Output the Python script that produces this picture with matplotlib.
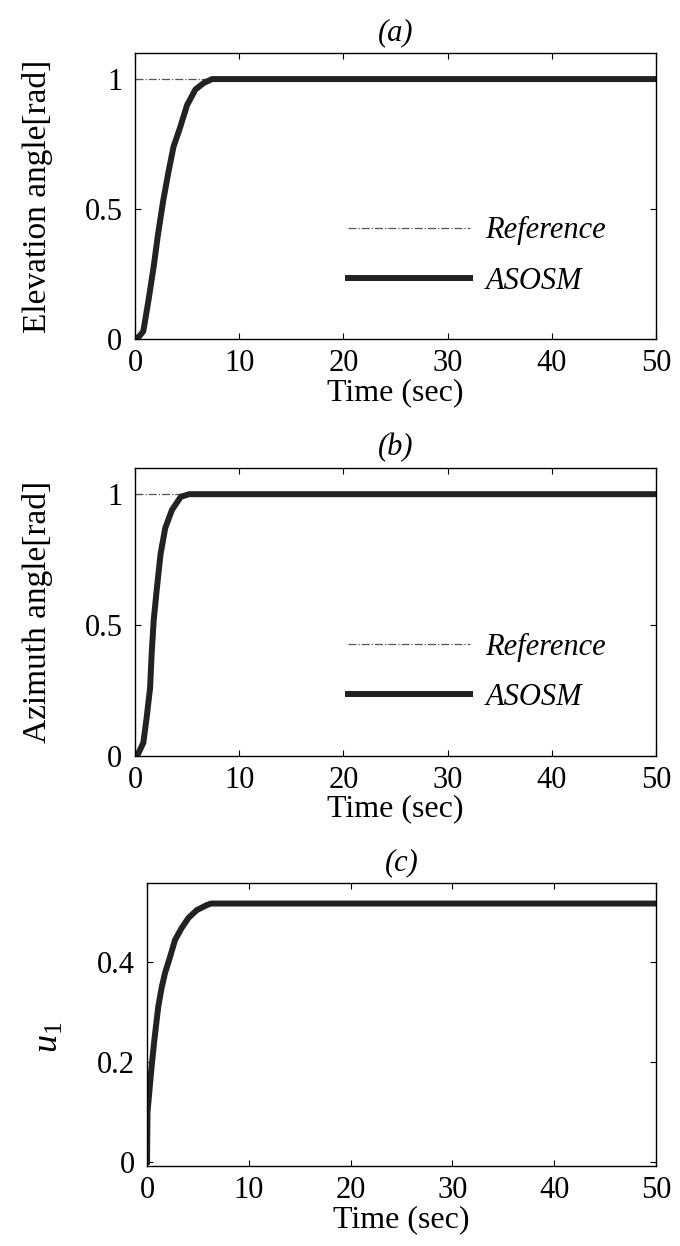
import numpy as np
import matplotlib
matplotlib.use('Agg')
import matplotlib.pyplot as plt
from matplotlib.ticker import FuncFormatter

plt.rcParams['font.family'] = ['Liberation Serif', 'DejaVu Serif']
plt.rcParams['mathtext.fontset'] = 'custom'
plt.rcParams['mathtext.rm'] = 'Liberation Serif'
plt.rcParams['mathtext.it'] = 'Liberation Serif:italic'

# (a) elevation angle
t_a = [0, 0.4, 0.8, 1.3, 1.8, 2.2, 2.7, 3.2, 3.7, 4.3, 5.0, 5.8, 6.6, 7.4, 50]
elev = [0, 0.01, 0.03, 0.15, 0.28, 0.40, 0.53, 0.64, 0.74, 0.81, 0.90, 0.96, 0.985, 1.0, 1.0]

# (b) azimuth angle
t_b = [0, 0.2, 0.8, 1.1, 1.45, 1.6, 1.8, 2.1, 2.45, 2.9, 3.55, 4.4, 5.2, 50]
azim = [0, 0, 0.05, 0.14, 0.26, 0.39, 0.52, 0.64, 0.77, 0.87, 0.94, 0.99, 1.0, 1.0]

# (c) control input u1
t_c = [0, 0.05, 0.4, 0.72, 1.1, 1.45, 1.77, 2.26, 2.75, 3.4, 4.06, 4.9, 5.88, 6.3, 50]
u1 = [0, 0.10, 0.18, 0.244, 0.31, 0.35, 0.378, 0.41, 0.444, 0.468, 0.488, 0.504, 0.514, 0.517, 0.517]

t_ref = [0, 50]
ref = [1, 1]

x_ticks = [0, 10, 20, 30, 40, 50]
fs = 22
line_col = '#222222'

fig = plt.figure(figsize=(6.8, 12.46), dpi=100)
ax_a = fig.add_axes([0.1985, 0.7279, 0.7662, 0.2295])
ax_b = fig.add_axes([0.1985, 0.3933, 0.7662, 0.2311])
ax_c = fig.add_axes([0.2162, 0.0642, 0.7485, 0.2271])


def fmt(v, pos):
    return ('%g' % v)


def style(ax, title):
    ax.set_xlim(0, 50)
    ax.set_xticks(x_ticks)
    ax.tick_params(direction='in', top=True, right=True, length=4, width=0.8,
                   labelsize=fs)
    ax.tick_params(axis='y', pad=9)
    ax.tick_params(axis='x', pad=7)
    ax.yaxis.set_major_formatter(FuncFormatter(fmt))
    ax.set_xlabel('Time (sec)', fontsize=fs + 1, labelpad=0)
    ax.set_title(title, fontsize=fs, style='italic', pad=9)
    for s in ax.spines.values():
        s.set_linewidth(1.0)


for ax, t, y, title, lab in [(ax_a, t_a, elev, '(a)', 'Elevation angle[rad]'),
                             (ax_b, t_b, azim, '(b)', 'Azimuth angle[rad]')]:
    ax.plot(t_ref, ref, linestyle='-.', color='#555555', lw=0.9, label='Reference')
    ax.plot(t, y, color=line_col, lw=4.3, label='ASOSM')
    ax.set_ylim(0, 1.1)
    ax.set_yticks([0, 0.5, 1])
    style(ax, title)
    ax.set_ylabel(lab, fontsize=fs + 2)
    ax.yaxis.set_label_coords(-0.158, 0.5)
    leg = ax.legend(loc='center left', bbox_to_anchor=(0.409, 0.29), frameon=False,
                    fontsize=fs, handlelength=4.0, handletextpad=0.5,
                    labelspacing=0.7, borderpad=0, borderaxespad=0)
    for txt in leg.get_texts():
        txt.set_style('italic')

ax_c.plot(t_c, u1, color=line_col, lw=4.3)
ax_c.set_ylim(-0.008, 0.558)
ax_c.set_yticks([0, 0.2, 0.4])
style(ax_c, '(c)')
ax_c.set_ylabel(r'$u_{\mathit{1}}$', fontsize=fs + 4)
ax_c.yaxis.set_label_coords(-0.16, 0.455)

plt.savefig('out.png', dpi=100)
